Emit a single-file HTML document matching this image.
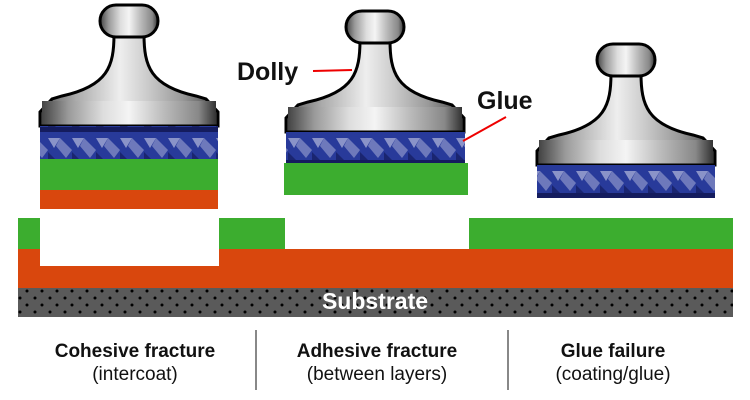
<!DOCTYPE html>
<html><head><meta charset="utf-8"><style>
body{margin:0;background:#fff;width:750px;height:400px;overflow:hidden;font-family:"Liberation Sans",Arial,sans-serif}
.lab{position:absolute;text-align:center;width:250px;color:#111}
.lab b{display:block;font-size:19px;font-weight:bold;line-height:22px}
.lab span{display:block;font-size:19px;line-height:22px;margin-top:1px}
.div{position:absolute;top:330px;width:2px;height:60px;background:#888}
</style></head><body>
<svg width="750" height="400" style="position:absolute;left:0;top:0">
<defs>
<linearGradient id="met" x1="0" x2="1" y1="0" y2="0">
<stop offset="0" stop-color="#555"/><stop offset="0.2" stop-color="#aaa"/><stop offset="0.45" stop-color="#eee"/><stop offset="0.6" stop-color="#ccc"/><stop offset="0.8" stop-color="#999"/><stop offset="1" stop-color="#444"/></linearGradient>
<linearGradient id="band" x1="0" x2="1"><stop offset="0" stop-color="#444"/><stop offset="0.15" stop-color="#999"/><stop offset="0.35" stop-color="#ddd"/><stop offset="0.5" stop-color="#f4f4f4"/><stop offset="0.7" stop-color="#bbb"/><stop offset="0.9" stop-color="#888"/><stop offset="1" stop-color="#333"/></linearGradient>
<pattern id="glue" width="24" height="33" patternUnits="userSpaceOnUse">
<rect width="24" height="33" fill="#283a9a"/>
<polygon points="0,6 12,6 6,16" fill="#8a93c8"/>
<polygon points="12,6 24,18 18,26 8,14" fill="#6e79bb"/>
<polygon points="0,20 8,28 0,30" fill="#1a2570"/>
<rect y="28" width="24" height="5" fill="#141c5e"/>
</pattern>
<pattern id="dots" width="15" height="14" patternUnits="userSpaceOnUse">
<rect width="15" height="14" fill="#5a5a5a"/><circle cx="5" cy="4" r="1.5" fill="#000"/><circle cx="12" cy="11" r="1.5" fill="#000"/></pattern>
<g id="dolly">
<path d="M74,30 C74,62 68,82 22,92 L12,95 L0,108 L0,122 L178,122 L178,108 L166,95 L156,92 C110,82 104,62 104,30 Z" fill="url(#met)" stroke="#000" stroke-width="3"/>
<rect x="2" y="97" width="174" height="24" fill="url(#band)"/>
<path d="M0,122 L178,122" stroke="#000" stroke-width="3"/>
<rect x="60" y="1" width="58" height="32" rx="16" fill="url(#band)" stroke="#000" stroke-width="3"/>
</g>
</defs>
<rect x="18" y="288" width="715" height="29" fill="url(#dots)"/>
<rect x="18" y="249" width="715" height="39" fill="#d9470d"/>
<rect x="18" y="218" width="22" height="31" fill="#3cad2f"/>
<rect x="219" y="218" width="66" height="31" fill="#3cad2f"/>
<rect x="469" y="218" width="264" height="31" fill="#3cad2f"/>
<rect x="40" y="245" width="179" height="21" fill="#fff"/>
<text x="375" y="309" text-anchor="middle" font-family="Liberation Sans, Arial, sans-serif" font-weight="bold" font-size="23" fill="#fff">Substrate</text>
<use href="#dolly" transform="translate(40,4)"/>
<rect x="40" y="126" width="178" height="33" fill="url(#glue)"/>
<rect x="40" y="159" width="178" height="31" fill="#3cad2f"/>
<rect x="40" y="190" width="178" height="19" fill="#d9470d"/>
<use href="#dolly" transform="translate(286,10)"/>
<rect x="286" y="132" width="179" height="31" fill="url(#glue)"/>
<rect x="284" y="163" width="184" height="32" fill="#3cad2f"/>
<use href="#dolly" transform="translate(537,43)"/>
<rect x="537" y="165" width="178" height="33" fill="url(#glue)"/>
<text x="237" y="80" font-family="Liberation Sans, Arial, sans-serif" font-weight="bold" font-size="25" fill="#111">Dolly</text>
<line x1="313" y1="71" x2="352" y2="70" stroke="#e00" stroke-width="2"/>
<text x="477" y="109" font-family="Liberation Sans, Arial, sans-serif" font-weight="bold" font-size="25" fill="#111">Glue</text>
<line x1="506" y1="117" x2="463" y2="141" stroke="#e00" stroke-width="2"/>
</svg>
<div class="div" style="left:255px"></div>
<div class="div" style="left:507px"></div>
<div class="lab" style="left:10px;top:341px"><b>Cohesive fracture</b><span>(intercoat)</span></div>
<div class="lab" style="left:252px;top:341px"><b>Adhesive fracture</b><span>(between layers)</span></div>
<div class="lab" style="left:488px;top:341px"><b>Glue failure</b><span>(coating/glue)</span></div>
</body></html>
